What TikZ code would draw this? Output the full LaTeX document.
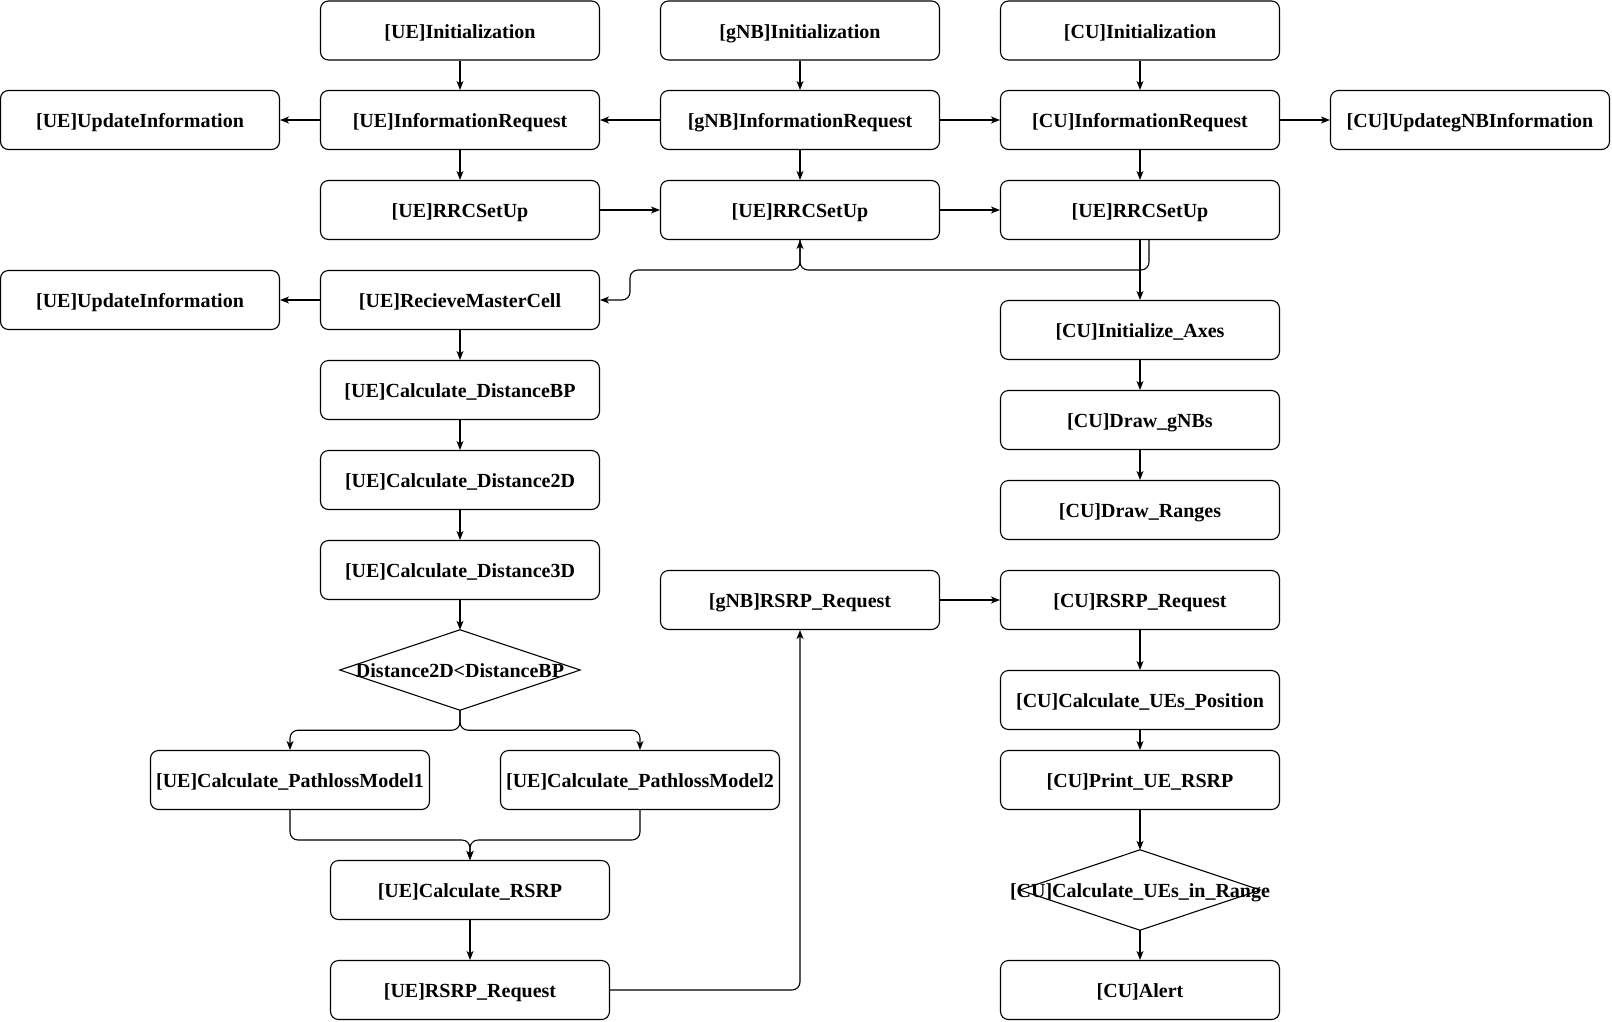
\documentclass[tikz,border=0pt]{standalone}
\usepackage{fontspec}
\setmainfont{Liberation Serif}
\usetikzlibrary{arrows.meta}
\begin{document}
\begin{tikzpicture}[x=1pt,y=-1pt,
  box/.style={draw, rounded corners=8pt, minimum width=279pt, minimum height=59pt, inner sep=0pt, line width=1.1pt, text height=16pt, text depth=1pt, font=\bfseries\fontsize{20pt}{24pt}\selectfont},
  dia/.style={minimum width=240pt, minimum height=80pt, inner sep=0pt},
  dtxt/.style={inner sep=0pt, text height=16pt, text depth=1pt, font=\bfseries\fontsize{20pt}{24pt}\selectfont},
  dline/.style={line width=1.1pt},
  arr/.style={line width=1.1pt, -{Stealth[length=9pt,width=7pt,inset=2.5pt]}, rounded corners=8pt}]
\fill[white] (0,0) rectangle (1612,1021);
\useasboundingbox (0,0) rectangle (1612,1021);
% row 1
\node[box] (uei) at (460,30.5) {[UE]Initialization};
\node[box] (gi)  at (800,30.5) {[gNB]Initialization};
\node[box] (ci)  at (1140,30.5) {[CU]Initialization};
% row 2
\node[box] (uup1) at (140,120) {[UE]UpdateInformation};
\node[box] (uir)  at (460,120) {[UE]InformationRequest};
\node[box] (gir)  at (800,120) {[gNB]InformationRequest};
\node[box] (cir)  at (1140,120) {[CU]InformationRequest};
\node[box] (cup)  at (1470,120) {[CU]UpdategNBInformation};
% row 3
\node[box] (urrc) at (460,210) {[UE]RRCSetUp};
\node[box] (grrc) at (800,210) {[UE]RRCSetUp};
\node[box] (crrc) at (1140,210) {[UE]RRCSetUp};
% row 4
\node[box] (uup2) at (140,300) {[UE]UpdateInformation};
\node[box] (urmc) at (460,300) {[UE]RecieveMasterCell};
% CU column
\node[box] (cax) at (1140,330) {[CU]Initialize\_Axes};
\node[box] (cdg) at (1140,420) {[CU]Draw\_gNBs};
\node[box] (cdr) at (1140,510) {[CU]Draw\_Ranges};
\node[box] (crs) at (1140,600) {[CU]RSRP\_Request};
\node[box] (cpos) at (1140,700) {[CU]Calculate\_UEs\_Position};
\node[box] (cpr) at (1140,780) {[CU]Print\_UE\_RSRP};
\node[dia] (cud) at (1140,890) {};
\draw[dline] (cud.north) -- (cud.east) -- (cud.south) -- (cud.west) -- cycle;
\node[dtxt] (cudt) at (cud) {[CU]Calculate\_UEs\_in\_Range};
\node[box] (cal) at (1140,990) {[CU]Alert};
% UE column
\node[box] (ubp) at (460,390) {[UE]Calculate\_DistanceBP};
\node[box] (u2d) at (460,480) {[UE]Calculate\_Distance2D};
\node[box] (u3d) at (460,570) {[UE]Calculate\_Distance3D};
\node[dia] (d1) at (460,670) {};
\draw[dline] (d1.north) -- (d1.east) -- (d1.south) -- (d1.west) -- cycle;
\node[dtxt] (d1t) at (d1) {Distance2D<DistanceBP};
\node[box] (pl1) at (290,780) {[UE]Calculate\_PathlossModel1};
\node[box] (pl2) at (640,780) {[UE]Calculate\_PathlossModel2};
\node[box] (ucr) at (470,890) {[UE]Calculate\_RSRP};
\node[box] (urr) at (470,990) {[UE]RSRP\_Request};
\node[box] (grs) at (800,600) {[gNB]RSRP\_Request};
% coordinates
\coordinate (j1) at (800,270);
\coordinate (j2) at (630,270);
\coordinate (j3) at (470,840);
% connectors top
\draw[arr] (uei) -- (uir);
\draw[arr] (gi) -- (gir);
\draw[arr] (ci) -- (cir);
\draw[arr] (uir) -- (uup1);
\draw[arr] (gir) -- (uir);
\draw[arr] (gir) -- (cir);
\draw[arr] (cir) -- (cup);
\draw[arr] (uir) -- (urrc);
\draw[arr] (gir) -- (grrc);
\draw[arr] (cir) -- (crrc);
\draw[arr] (urrc) -- (grrc);
\draw[arr] (grrc) -- (crrc);
\draw[arr] (crrc) -- (cax);
\draw[arr] ([xshift=9pt]crrc.south) |- (j1) -- (grrc.south);
\draw[arr] (grrc.south) -- (j1) -- (j2) |- (urmc.east);
\draw[arr] (urmc) -- (uup2);
% UE chain
\draw[arr] (urmc) -- (ubp);
\draw[arr] (ubp) -- (u2d);
\draw[arr] (u2d) -- (u3d);
\draw[arr] (u3d.south) -- (d1.north);
\draw[arr] (d1.south) -- ++(0,20) -| (pl1.north);
\draw[arr] (d1.south) -- ++(0,20) -| (pl2.north);
\draw[arr] (pl1.south) |- (j3) -- (ucr.north);
\draw[arr] (pl2.south) |- (j3) -- (ucr.north);
\draw[arr] (ucr) -- (urr);
\draw[arr] (urr.east) -| (grs.south);
\draw[arr] (grs) -- (crs);
% CU chain
\draw[arr] (cax) -- (cdg);
\draw[arr] (cdg) -- (cdr);
\draw[arr] (crs) -- (cpos);
\draw[arr] (cpos) -- (cpr);
\draw[arr] (cpr.south) -- (cud.north);
\draw[arr] (cud.south) -- (cal.north);
\end{tikzpicture}
\end{document}
